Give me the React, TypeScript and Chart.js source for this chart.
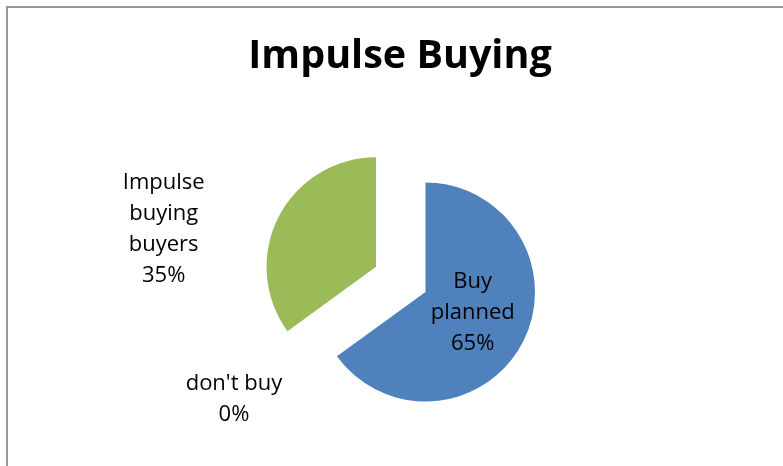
import React, { useEffect, useRef } from "react";
import { Chart, registerables } from "chart.js";

Chart.register(...registerables);

// ---- data ----
const chartTitle = "Impulse Buying";
const categories = ["Buy planned", "don't buy", "Impulse buying buyers"];
const categoryLines = [["Buy", "planned"], ["don't buy"], ["Impulse", "buying", "buyers"]];
const values = [65, 0, 35];

// ---- styles ----
const sliceColors = ["#4F81BD", "#C0504D", "#9BBB59"];
const explode = [0, 0, 222];
const labelPlacement = [
  { r: 0.47, angle: 23.5 },
  { r: 2.006, angle: 150.7 },
  { r: 1.97, angle: 190.1 },
];
const FONT = "'Open Sans', 'Noto Sans', sans-serif";
const CANVAS_W = 783;
const CANVAS_H = 513;

// make exploded slices a pure translation (same radius and angles, like Excel)
const explodeFix = {
  id: "explodeFix",
  afterDatasetsUpdate(chart: any) {
    const meta = chart.getDatasetMeta(0);
    meta.data.forEach((arc: any) => {
      const off = ((arc.options && arc.options.offset) || 0) / 4;
      if (!off || !arc.circumference) return;
      const fix = 1 - Math.sin(Math.min(Math.PI, arc.circumference));
      const radiusOffset = off * fix;
      arc.outerRadius = arc.outerRadius - radiusOffset;
      const d = radiusOffset / (2 * Math.PI * (arc.outerRadius + radiusOffset));
      arc.startAngle -= d;
      arc.endAngle += d;
    });
  },
};

const titlePlugin = {
  id: "excelTitle",
  afterDraw(chart: any) {
    const ctx = chart.ctx;
    ctx.save();
    ctx.font = `bold 39.5px ${FONT}`;
    ctx.fillStyle = "#000";
    ctx.textAlign = "center";
    ctx.textBaseline = "alphabetic";
    ctx.fillText(chartTitle, 400, 68);
    ctx.restore();
  },
};

const sliceLabels = {
  id: "sliceLabels",
  afterDatasetsDraw(chart: any) {
    const meta = chart.getDatasetMeta(0);
    const total = values.reduce((a, b) => a + b, 0);
    const ctx = chart.ctx;
    const R = (meta.controller as any).outerRadius;
    ctx.save();
    ctx.font = `22px ${FONT}`;
    ctx.fillStyle = "#000";
    ctx.textAlign = "center";
    ctx.textBaseline = "middle";
    meta.data.forEach((arc: any, i: number) => {
      const mid = (arc.startAngle + arc.endAngle) / 2;
      const off = ((arc.options && arc.options.offset) || 0) / 4;
      const cx = arc.x + Math.cos(mid) * off;
      const cy = arc.y + Math.sin(mid) * off;
      const p: any = labelPlacement[i];
      const a = p.angle !== undefined ? (p.angle * Math.PI) / 180 : mid;
      const x = cx + Math.cos(a) * p.r * R;
      const y = cy + Math.sin(a) * p.r * R;
      const lines = [...categoryLines[i], Math.round((values[i] / total) * 100) + "%"];
      const lh = 31;
      lines.forEach((t, k) => ctx.fillText(t, x, y + (k - (lines.length - 1) / 2) * lh));
    });
    ctx.restore();
  },
};

export default function App() {
  const ref = useRef<HTMLCanvasElement>(null);
  useEffect(() => {
    if (!ref.current) return;
    const chart = new Chart(ref.current, {
      type: "pie",
      data: {
        labels: categories,
        datasets: [
          {
            data: values,
            backgroundColor: sliceColors,
            borderWidth: 0,
            offset: explode,
            hoverOffset: 0,
          },
        ],
      },
      options: {
        responsive: false,
        animation: false,
        events: [],
        layout: { padding: { left: 68, right: 0, top: 71.5, bottom: 0.5 } },
        plugins: {
          legend: { display: false },
          tooltip: { enabled: false },
          title: { display: false },
        },
      },
      plugins: [explodeFix, sliceLabels, titlePlugin],
    } as any);
    return () => chart.destroy();
  }, []);
  return (
    <div style={{ position: "fixed", left: 0, top: 0, width: 783, height: 466, background: "#fff", overflow: "hidden" }}>
      <canvas
        ref={ref}
        width={CANVAS_W}
        height={CANVAS_H}
        style={{ position: "absolute", left: 0, top: 0, width: CANVAS_W, height: CANVAS_H }}
      />
      <div
        style={{
          position: "absolute",
          left: 6,
          top: 6,
          width: 800,
          height: 500,
          borderTop: "2px solid #9a9a9a",
          borderLeft: "2px solid #9a9a9a",
          pointerEvents: "none",
        }}
      />
    </div>
  );
}
